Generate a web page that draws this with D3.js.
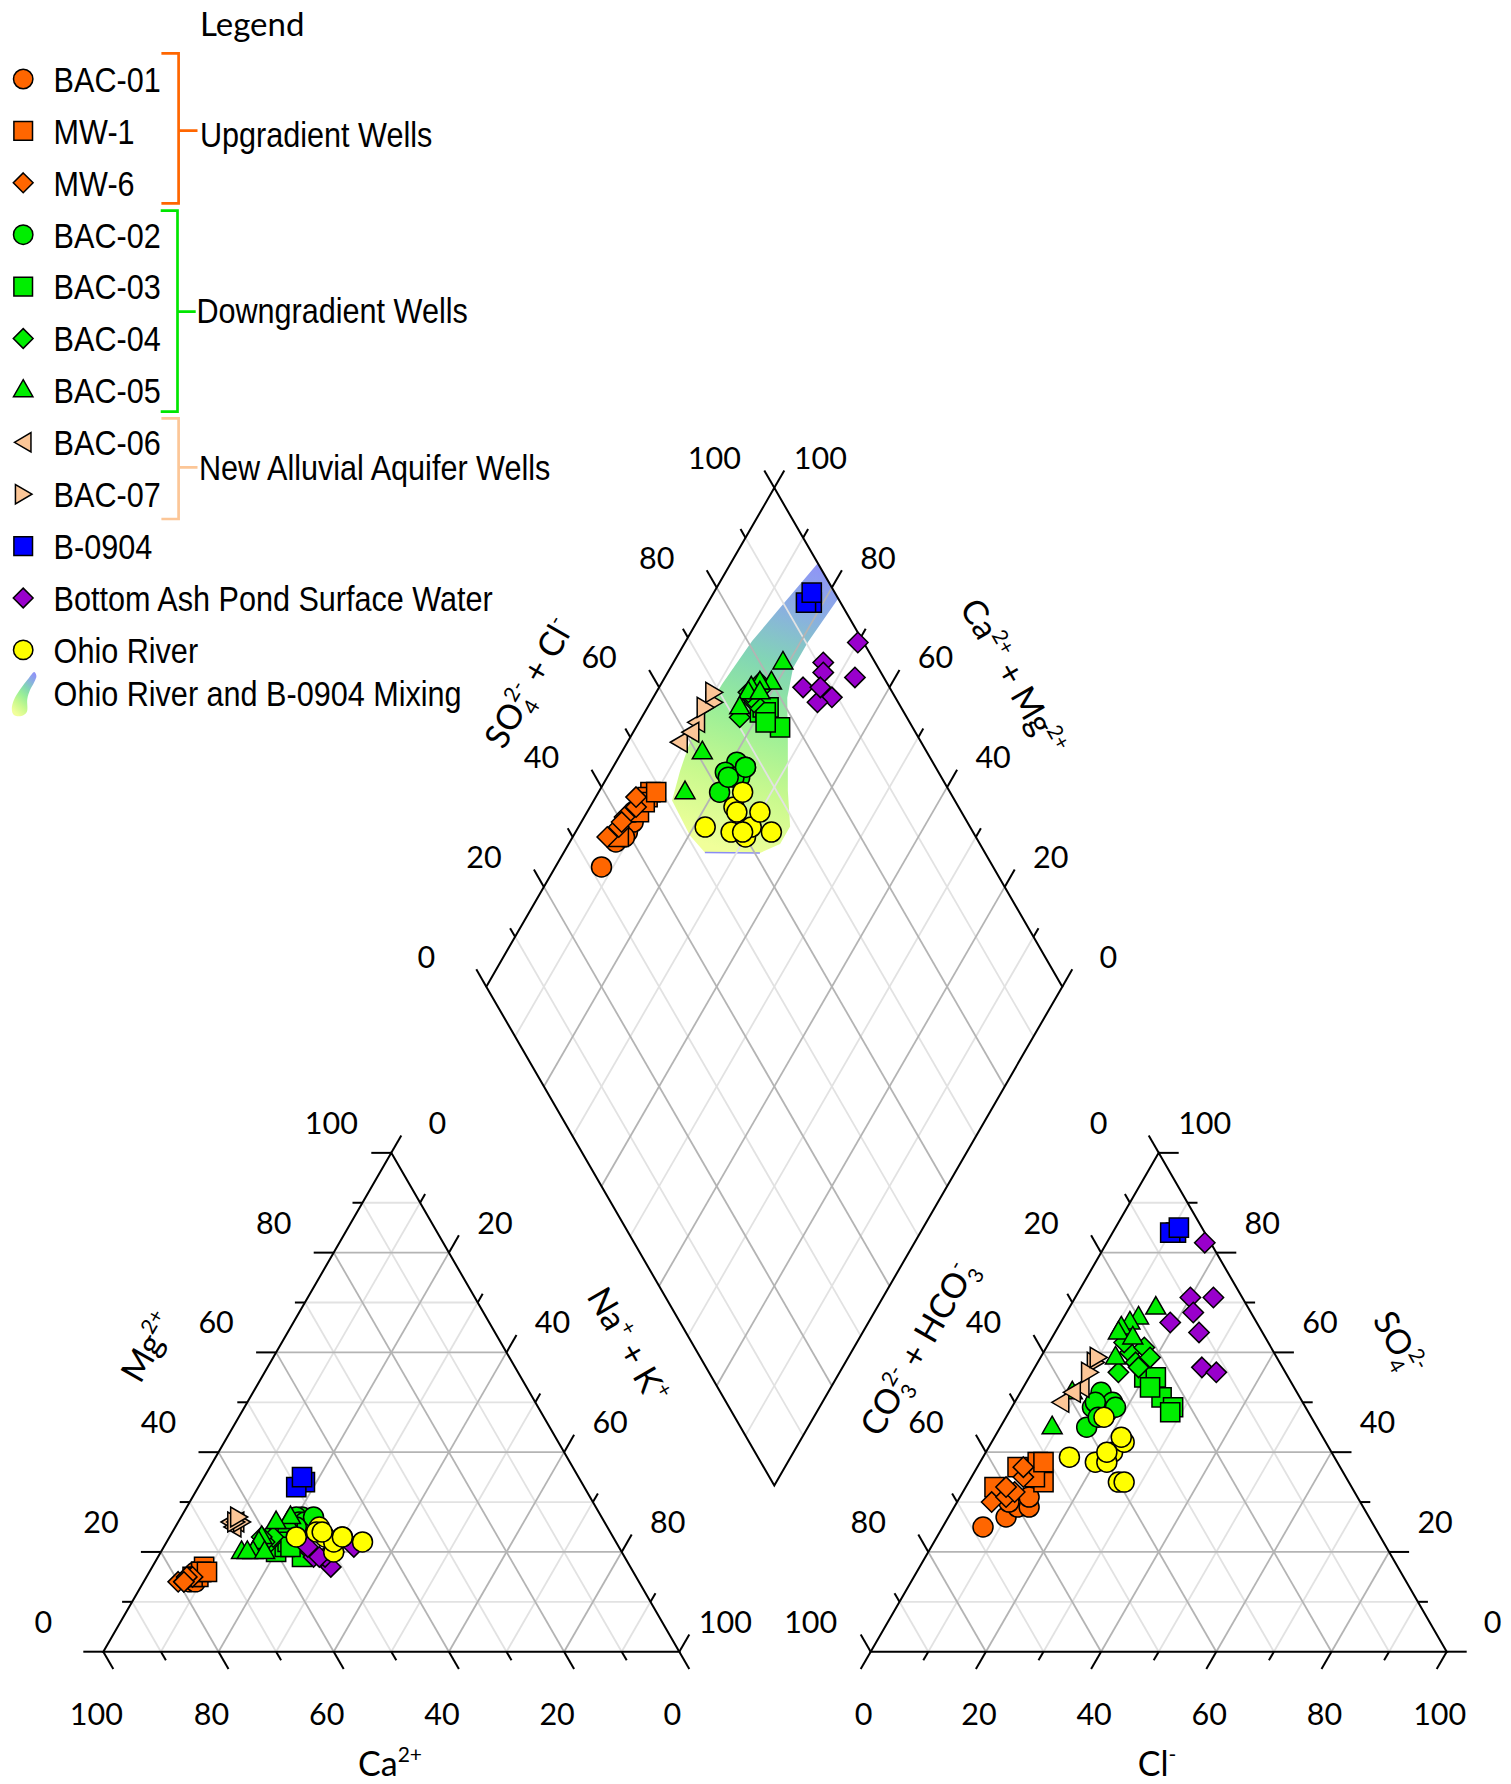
<!DOCTYPE html>
<html>
<head>
<meta charset="utf-8">
<title>Piper diagram</title>
<script src="https://cdn.jsdelivr.net/npm/d3@7/dist/d3.min.js"></script>
<style>
  html, body { margin: 0; padding: 0; background: #ffffff; }
  svg { display: block; }
</style>
</head>
<body>
<svg id="piper" width="1511" height="1784" viewBox="0 0 1511 1784"></svg>
<script>
// ---------------- data ----------------
const groupNames = ["BAC-01", "MW-1", "MW-6", "BAC-02", "BAC-03", "BAC-04", "BAC-05",
  "BAC-06", "BAC-07", "B-0904", "Bottom Ash Pond Surface Water", "Ohio River"];

// Cations, meq %: [Ca2+, Mg2+, Na+ + K+]
// Anions,  meq %: [CO3 2- + HCO3-, SO4 2-, Cl-]
const bac01Cations = [[78,14,8],[77,15,8],[76,15,9],[75,16,9],[76,16,8],[77,14,9]];
const bac01Anions  = [[68,25,7],[63,27,10],[60,29,11],[58,29,13],[57,31,12],[61,30,9]];

const mw1Cations = [[75,16,9],[74,17,9],[76,15,9],[77,15,8],[75,16,9],[74,16,10]];
const mw1Anions  = [[52,38,10],[53,34,13],[56,37,7],[62,33,5],[54,35,11],[51,38,11]];

const mw6Cations = [[80,14,6],[79,14,7],[78,15,7],[77,15,8],[78,15,7],[79,14,7]];
const mw6Anions  = [[64,30,6],[61,31,8],[59,32,9],[56,35,9],[55,37,8],[60,33,7]];

const bac02Cations = [[52,27,21],[51,26,23],[53,27,20],[53,26,21],[51,26,23],[52,26,22],[50,27,23],[54,25,21]];
const bac02Anions  = [[34,52,14],[33,50,17],[37,49,14],[40,45,15],[35,48,17],[36,50,14],[33,49,18],[37,47,16]];

const bac03Cations = [[60,20,20],[56,19,25],[56,24,20],[58,21,21],[57,22,21],[57,21,22]];
const bac03Anions  = [[25,55,20],[23,55,22],[24,51,25],[23,49,28],[24,48,28],[25,53,22]];

const bac04Cations = [[61,22,17],[60,23,17],[62,21,17],[60,22,18],[59,23,18],[61,22,17],[61,23,16]];
const bac04Anions  = [[25,60,15],[22,61,17],[29,56,15],[25,58,17],[22,59,19],[25,57,18],[25,62,13]];

const bac05Cations = [[55,26,19],[54,27,19],[57,26,17],[61,23,16],[62,22,16],[64,20,16],[66,20,14],[65,20,15],[62,20,18]];
const bac05Anions  = [[16,69,15],[20,67,13],[22,66,12],[24,65,11],[25,64,11],[28,59,13],[39,52,9],[46,45,9],[23,63,14]];

const bac06Cations = [[65,26,9],[64,26,10],[65,25,10]];
const bac06Anions  = [[42,50,8],[37,53,10],[39,52,9]];

const bac07Cations = [[63,26,11],[64,26,10],[63,27,10]];
const bac07Anions  = [[32,58,10],[34,56,10],[31,59,10]];

const b0904Cations = [[48,34,18],[50,33,17],[48,35,17]];
const b0904Anions  = [[5,84,11],[6,84,10],[4,85,11]];

const pondCations = [[50,20,30],[54,20,26],[46,21,33],[54,19,27],[54,21,25],[52,17,31],[52,19,29],[53,19,28]];
const pondAnions  = [[1,82,17],[9,71,20],[5,71,24],[10,68,22],[15,66,19],[11,64,25],[14,57,29],[12,56,32]];

const riverCations = [[55,23,22],[50,23,27],[50,20,30],[50,25,25],[47,23,30],[49,22,29],[51,24,25],[47,23,30],[44,22,34],[50,24,26]];
const riverAnions  = [[46,39,15],[42,38,20],[40,34,26],[39,34,27],[38,40,22],[40,38,22],[36,47,17],[35,42,23],[35,43,22],[39,40,21]];

const cationSets = [bac01Cations, mw1Cations, mw6Cations, bac02Cations, bac03Cations, bac04Cations,
  bac05Cations, bac06Cations, bac07Cations, b0904Cations, pondCations, riverCations];
const anionSets = [bac01Anions, mw1Anions, mw6Anions, bac02Anions, bac03Anions, bac04Anions,
  bac05Anions, bac06Anions, bac07Anions, b0904Anions, pondAnions, riverAnions];

// Ohio River / B-0904 mixing envelope in diamond coordinates (SO4+Cl %, Ca+Mg %)
const mixingSO4Cl = [100, 100, 90.4, 85.2, 81.2, 77.0, 72.0, 68.8, 65.3, 60.9, 51.4, 50.5, 50.9, 55.3, 61.2, 71.3, 80.8, 89.9];
const mixingCaMg  = [84.9, 77.8, 78.7, 78.7, 76.7, 72.3, 67.3, 63.3, 63.3, 65.9, 75.5, 79.8, 86.4, 88.0, 89.5, 89.4, 88.5, 86.8];

const tickValues = d3.range(0, 101, 10);
const tickLabelValues = [0, 20, 40, 60, 80, 100];

const bracketNames = ["Upgradient Wells", "Downgradient Wells", "New Alluvial Aquifer Wells"];
const mixingName = "Ohio River and B-0904 Mixing";

// ---------------- styles ----------------
const groupShapes = ["circle","square","diamond","circle","square","diamond","triUp","triLeft","triRight","square","diamond","circle"];
const ORANGE = "#ff6600", GREEN = "#00ee00", PEACH = "#fcc697";
const groupFills = [ORANGE, ORANGE, ORANGE, GREEN, GREEN, GREEN, GREEN, PEACH, PEACH, "#0000ff", "#9900cc", "#ffff00"];
const FONT_NUM = "Lato, 'Open Sans', 'Noto Sans', sans-serif";
const FONT_LEG = "'Liberation Sans', Arial, sans-serif";
const LEG_SQUEEZE = 0.85;   // condensed legend lettering

// ---------------- geometry ----------------
const SQ = Math.sqrt(3) / 2;
const SIDE = 576, H = SIDE * SQ;
const baseY = 1651.7;
const cationTri = { a: [103.3, baseY], b: [391.3, baseY - H], c: [679.3, baseY] };   // Ca, Mg, Na+K
const anionTri  = { a: [870.7, baseY], b: [1158.7, baseY - H], c: [1446.7, baseY] }; // HCO3, SO4, Cl
const dB = [774.3, 1485.5], dR = [774.3 + SIDE / 2, 1485.5 - H], dL = [774.3 - SIDE / 2, 1485.5 - H];

const pct = d3.scaleLinear().domain([0, 100]).range([0, 1]);

function triPoint(tri, v) {
  const fa = pct(v[0]), fb = pct(v[1]), fc = pct(v[2]);
  return [fa * tri.a[0] + fb * tri.b[0] + fc * tri.c[0],
          fa * tri.a[1] + fb * tri.b[1] + fc * tri.c[1]];
}
function diamondPoint(so4cl, camg) {
  const u = pct(so4cl), w = pct(camg);
  return [dB[0] + u * (dR[0] - dB[0]) + w * (dL[0] - dB[0]),
          dB[1] + u * (dR[1] - dB[1]) + w * (dL[1] - dB[1])];
}

const svg = d3.select("#piper");
const defs = svg.append("defs");

// gradients for the mixing envelope and its legend swatch
const mixStops = [[0, "#8f95f6"], [0.16, "#8aaee2"], [0.36, "#82d6b4"], [0.55, "#98ee98"], [0.78, "#c9f98e"], [1, "#f0ff9a"]];
const grad = defs.append("linearGradient").attr("id", "mixGrad")
  .attr("gradientUnits", "userSpaceOnUse")
  .attr("x1", 828).attr("y1", 570).attr("x2", 730).attr("y2", 852);
mixStops.forEach(([o, c]) => grad.append("stop").attr("offset", o).attr("stop-color", c));
const gradL = defs.append("linearGradient").attr("id", "mixGradLegend")
  .attr("x1", 0.8).attr("y1", 0).attr("x2", 0.3).attr("y2", 1);
mixStops.forEach(([o, c]) => gradL.append("stop").attr("offset", o).attr("stop-color", c));

const gFill = svg.append("g");
const gGrid = svg.append("g").attr("fill", "none").attr("stroke-width", 1.8);
const gFrame = svg.append("g").attr("fill", "none").attr("stroke", "#000").attr("stroke-width", 2);
const gText = svg.append("g").attr("fill", "#000");
const gMarks = svg.append("g");
const gLegend = svg.append("g");

const line = d3.line();

// ---------------- mixing envelope ----------------
const mixPts = mixingSO4Cl.map((s, i) => diamondPoint(s, mixingCaMg[i]));
gFill.append("path").attr("d", line(mixPts) + "Z").attr("fill", "url(#mixGrad)");
gFill.append("path").attr("d", line([mixPts[9], mixPts[10]]))
  .attr("stroke", "#8a8cf5").attr("stroke-width", 1.4).attr("fill", "none");

// ---------------- grids ----------------
const gridSegs = [];
[cationTri, anionTri].forEach(tri => {
  d3.range(10, 100, 10).forEach(k => {
    gridSegs.push({ k, p: [triPoint(tri, [100 - k, k, 0]), triPoint(tri, [0, k, 100 - k])] });
    gridSegs.push({ k, p: [triPoint(tri, [k, 100 - k, 0]), triPoint(tri, [k, 0, 100 - k])] });
    gridSegs.push({ k, p: [triPoint(tri, [0, 100 - k, k]), triPoint(tri, [100 - k, 0, k])] });
  });
});
d3.range(10, 100, 10).forEach(k => {
  gridSegs.push({ k, p: [diamondPoint(k, 0), diamondPoint(k, 100)] });
  gridSegs.push({ k, p: [diamondPoint(0, k), diamondPoint(100, k)] });
});
gridSegs.sort((a, b) => (a.k % 20 === 0) - (b.k % 20 === 0));
gGrid.selectAll("path").data(gridSegs).join("path")
  .attr("d", d => line(d.p))
  .attr("stroke", d => d.k % 20 === 0 ? "#b4b4b4" : "#e2e2e2");

// ---------------- frames ----------------
[cationTri, anionTri].forEach(tri => {
  gFrame.append("path").attr("d", line([tri.a, tri.b, tri.c]) + "Z");
});
gFrame.append("path").attr("d", line([dB, dR, diamondPoint(100, 100), dL]) + "Z");

// ---------------- axes: ticks + labels ----------------
const axes = [
  { at: k => triPoint(cationTri, [100 - k, k, 0]), dir: [-1, 0], off: [-60, -30] },      // Mg2+
  { at: k => triPoint(cationTri, [k, 0, 100 - k]), dir: [0.5, SQ], off: [-7, 62.5] },    // Ca2+
  { at: k => triPoint(cationTri, [0, 100 - k, k]), dir: [0.5, -SQ], off: [46, -30] },    // Na+ + K+
  { at: k => triPoint(anionTri, [k, 100 - k, 0]), dir: [-0.5, -SQ], off: [-60, -30] },   // CO3 + HCO3
  { at: k => triPoint(anionTri, [100 - k, 0, k]), dir: [-0.5, SQ], off: [-7, 62.5] },    // Cl-
  { at: k => triPoint(anionTri, [0, k, 100 - k]), dir: [1, 0], off: [46, -30] },         // SO4 2-
  { at: k => diamondPoint(k, 100), dir: [-0.5, -SQ], off: [-60, -30] },                  // SO4 + Cl
  { at: k => diamondPoint(100, k), dir: [0.5, -SQ], off: [46, -30] }                     // Ca + Mg
];
axes.forEach(ax => {
  tickValues.forEach(k => {
    const p = ax.at(k), len = k % 20 === 0 ? 20 : 10;
    gFrame.append("path").attr("d", line([p, [p[0] + ax.dir[0] * len, p[1] + ax.dir[1] * len]]));
  });
  tickLabelValues.forEach(k => {
    const p = ax.at(k);
    gText.append("text")
      .attr("x", p[0] + ax.off[0]).attr("y", p[1] + ax.off[1] + 11)
      .attr("text-anchor", "middle").attr("font-family", FONT_NUM).attr("font-size", 30.5)
      .text(k);
  });
});

// ---------------- axis titles ----------------
function chemTitle(x, y, angle, parts) {
  const t = gText.append("text")
    .attr("transform", `translate(${x},${y}) rotate(${angle})`)
    .attr("y", 12).attr("text-anchor", "middle")
    .attr("font-family", FONT_NUM).attr("font-size", 34);
  let cur = 0;
  parts.forEach(([s, kind]) => {
    const target = kind === "sub" ? 9 : (kind === "sup" || kind === "supStack") ? -14 : 0;
    const ts = t.append("tspan").attr("dy", target - cur).text(s);
    if (kind) ts.attr("font-size", 21);
    if (kind === "supStack") ts.attr("dx", -11);
    cur = target;
  });
}
chemTitle(148, 1347, -60, [["Mg"], ["2+", "sup"]]);
chemTitle(628, 1345, 60, [["Na"], ["+", "sup"], [" + K"], ["+", "sup"]]);
chemTitle(390, 1764, 0, [["Ca"], ["2+", "sup"]]);
chemTitle(918, 1348, -60, [["CO"], ["3", "sub"], ["2-", "supStack"], [" + HCO"], ["3", "sub"], ["-", "supStack"]]);
chemTitle(1399, 1343, 60, [["SO"], ["4", "sub"], ["2-", "supStack"]]);
chemTitle(1157, 1764, 0, [["Cl"], ["-", "sup"]]);
chemTitle(529, 683, -60, [["SO"], ["4", "sub"], ["2-", "supStack"], [" + Cl"], ["-", "sup"]]);
chemTitle(1013, 677, 60, [["Ca"], ["2+", "sup"], [" + Mg"], ["2+", "sup"]]);

// ---------------- markers ----------------
const shapePath = {
  circle: r => d3.symbol(d3.symbolCircle, Math.PI * r * r)(),
  square: r => d3.symbol(d3.symbolSquare, Math.pow(2 * r * 0.96, 2))(),
  diamond: r => `M0,${-r * 1.02}L${r * 1.02},0L0,${r * 1.02}L${-r * 1.02},0Z`,
  triUp: r => `M0,${-r * 1.1}L${r},${r * 0.65}L${-r},${r * 0.65}Z`,
  triLeft: r => `M${-r * 0.9},0L${r * 0.8},${-r}L${r * 0.8},${r}Z`,
  triRight: r => `M${r * 0.9},0L${-r * 0.8},${-r}L${-r * 0.8},${r}Z`
};

groupNames.forEach((name, gi) => {
  const cats = cationSets[gi], ans = anionSets[gi];
  const pts = [];
  cats.forEach((c, j) => {
    const a = ans[j];
    pts.push(triPoint(cationTri, c));
    pts.push(triPoint(anionTri, a));
    pts.push(diamondPoint(a[1] + a[2], c[0] + c[1]));
  });
  gMarks.append("g").selectAll("path").data(pts).join("path")
    .attr("transform", d => `translate(${d[0]},${d[1]})`)
    .attr("d", shapePath[groupShapes[gi]](10))
    .attr("fill", groupFills[gi]).attr("stroke", "#000").attr("stroke-width", 1.5);
});

// ---------------- legend ----------------
gLegend.append("text").attr("x", 200).attr("y", 36)
  .attr("font-family", FONT_NUM).attr("font-size", 33).text("Legend");

function legendText(x, y, s) {
  gLegend.append("text")
    .attr("transform", `translate(${x},${y}) scale(${LEG_SQUEEZE},1)`)
    .attr("font-family", FONT_LEG).attr("font-size", 36).text(s);
}

const rowY = i => 79 + i * 51.9;
groupNames.forEach((name, gi) => {
  const y = rowY(gi);
  gLegend.append("path").attr("transform", `translate(23.2,${y})`)
    .attr("d", shapePath[groupShapes[gi]](9.7))
    .attr("fill", groupFills[gi]).attr("stroke", "#000").attr("stroke-width", 1.5);
  legendText(53.6, y + 12.8, name);
});

const brackets = [
  { top: 53.3, bottom: 203.3, mid: 130.7, x0: 161.4, x: 178.6, tick: 197.5, color: ORANGE, tx: 200, ty: 146.8 },
  { top: 210.7, bottom: 411.7, mid: 311.7, x0: 160.7, x: 177.5, tick: 195.7, color: "#00e600", tx: 196.4, ty: 322.8 },
  { top: 418.3, bottom: 519, mid: 467.3, x0: 161.4, x: 178.6, tick: 197.5, color: PEACH, tx: 199, ty: 480.3 }
];
brackets.forEach((b, i) => {
  gLegend.append("path")
    .attr("d", `M${b.x0},${b.top}H${b.x}V${b.bottom}H${b.x0}M${b.x},${b.mid}H${b.tick}`)
    .attr("fill", "none").attr("stroke", b.color).attr("stroke-width", 2.7);
  legendText(b.tx, b.ty, bracketNames[i]);
});

gLegend.append("path")
  .attr("d", d3.line().curve(d3.curveCatmullRomClosed)([[34.3,672],[36.4,676],[34.3,682],[30,690],[27.3,699],[26.8,712],[21.4,716],[13.9,715],[11.8,709],[13.9,700],[20.4,689],[28.9,678]]))
  .attr("fill", "url(#mixGradLegend)");
legendText(53.6, 706, mixingName);
</script>
</body>
</html>
